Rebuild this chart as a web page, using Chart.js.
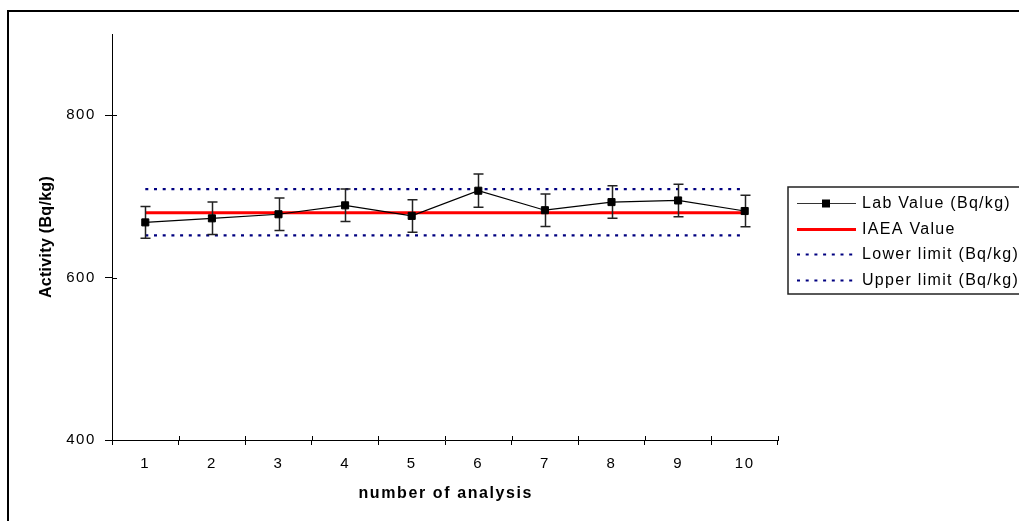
<!DOCTYPE html>
<html>
<head>
<meta charset="utf-8">
<script src="https://cdn.jsdelivr.net/npm/chart.js@4.4.1/dist/chart.umd.min.js"></script>
<style>
  html, body { margin: 0; padding: 0; background: #fff; }
  canvas { display: block; }
</style>
</head>
<body>
<canvas id="chart__1" width="1019" height="521"></canvas>
<script>
"use strict";

// ** Data
const analysisNumbers = ["1", "2", "3", "4", "5", "6", "7", "8", "9", "10"];
const labValues = [668, 673, 678, 689, 676, 707, 683, 693, 695, 682];
const labErrors = [19.5, 20, 20, 20, 20, 20.5, 20, 20, 20, 19.5];
const iaeaValues = [680, 680, 680, 680, 680, 680, 680, 680, 680, 680];
const lowerLimit = [652, 652, 652, 652, 652, 652, 652, 652, 652, 652];
const upperLimit = [709, 709, 709, 709, 709, 709, 709, 709, 709, 709];
const yTickValues = [400, 600, 800];

const FONT = "'Liberation Sans', Arial, sans-serif";
const TICK_SPACING = 1.6;

// ** Plugins

const errorBars = {
  id: "errorBars",
  beforeDatasetDraw(chart, args) {
    if (args.index !== 0) return;
    const { ctx } = chart;
    const { x, y } = chart.scales;
    ctx.save();
    ctx.strokeStyle = "#222";
    ctx.lineWidth = 1.5;
    labValues.forEach((v, i) => {
      const px = Math.round(x.getPixelForValue(i)) + 0.5;
      const top = y.getPixelForValue(v + labErrors[i]);
      const bot = y.getPixelForValue(v - labErrors[i]);
      ctx.beginPath();
      ctx.moveTo(px, top);
      ctx.lineTo(px, bot);
      ctx.moveTo(px - 5, top);
      ctx.lineTo(px + 5, top);
      ctx.moveTo(px - 5, bot);
      ctx.lineTo(px + 5, bot);
      ctx.stroke();
    });
    ctx.restore();
  },
};

const textSpacing = {
  id: "textSpacing",
  beforeDraw(chart) {
    chart.ctx.letterSpacing = TICK_SPACING + "px";
  },
};

const decorations = {
  id: "decorations",
  afterDraw(chart) {
    const { ctx, chartArea } = chart;
    const { x, y } = chart.scales;
    ctx.save();

    // outer frame
    ctx.strokeStyle = "#000";
    ctx.lineWidth = 2;
    ctx.strokeRect(8, 11, 1100, 600);

    // tick marks crossing into the plot
    ctx.lineWidth = 1;
    ctx.beginPath();
    yTickValues.forEach((v) => {
      const py = Math.round(y.getPixelForValue(v)) + 0.5;
      ctx.moveTo(chartArea.left, py);
      ctx.lineTo(chartArea.left + 5, py);
    });
    const half = (x.getPixelForValue(1) - x.getPixelForValue(0)) / 2;
    for (let i = 0; i <= analysisNumbers.length; i++) {
      const px = Math.round(x.getPixelForValue(i) - half) + 0.5;
      ctx.moveTo(px, chartArea.bottom);
      ctx.lineTo(px, chartArea.bottom - 4);
    }
    ctx.stroke();

    // axis titles
    ctx.fillStyle = "#000";
    ctx.font = `bold 16px ${FONT}`;
    ctx.textAlign = "center";
    ctx.textBaseline = "middle";
    ctx.letterSpacing = "1.6px";
    ctx.fillText("number of analysis", (chartArea.left + chartArea.right) / 2 + 0.8, 494);
    ctx.save();
    ctx.letterSpacing = "0.3px";
    ctx.translate(47, (chartArea.top + chartArea.bottom) / 2);
    ctx.rotate(-Math.PI / 2);
    ctx.fillText("Activity (Bq/kg)", 0, 0);
    ctx.restore();

    // legend
    const lx = 788, ly = 187, rowH = 25.7;
    ctx.strokeStyle = "#222";
    ctx.lineWidth = 1.5;
    ctx.strokeRect(lx, ly, 300, 107);
    ctx.font = `16px ${FONT}`;
    ctx.textAlign = "left";
    ctx.letterSpacing = "1.3px";
    chart.data.datasets.forEach((ds, i) => {
      const cy = Math.round(ly + 16 + i * rowH) + 0.5;
      ctx.save();
      ctx.strokeStyle = i === 0 ? "#333" : ds.borderColor;
      ctx.lineWidth = ds.borderWidth;
      ctx.setLineDash(ds.borderDash || []);
      ctx.beginPath();
      ctx.moveTo(797, cy);
      ctx.lineTo(856, cy);
      ctx.stroke();
      if (i === 0) {
        ctx.fillStyle = "#000";
        ctx.fillRect(822, cy - 4, 8, 8);
      }
      ctx.restore();
      ctx.fillText(ds.label, 862, cy);
    });

    ctx.restore();
  },
};

// ** Chart
const config = {
  type: "line",
  data: {
    labels: analysisNumbers,
    datasets: [
      {
        label: "Lab Value (Bq/kg)",
        data: labValues,
        borderColor: "#000",
        backgroundColor: "#000",
        borderWidth: 1.2,
        pointStyle: "rect",
        pointRadius: 5,
        pointBorderWidth: 1,
      },
      {
        label: "IAEA Value",
        data: iaeaValues,
        borderColor: "#ff0000",
        borderWidth: 3,
        pointRadius: 0,
      },
      {
        label: "Lower limit (Bq/kg)",
        data: lowerLimit,
        borderColor: "#000080",
        borderWidth: 2.2,
        borderDash: [3, 5.7],
        pointRadius: 0,
      },
      {
        label: "Upper limit (Bq/kg)",
        data: upperLimit,
        borderColor: "#000080",
        borderWidth: 2.2,
        borderDash: [3, 5.7],
        pointRadius: 0,
      },
    ],
  },
  options: {
    responsive: false,
    animation: false,
    events: [],
    layout: { padding: { left: 0, top: 34, right: 241, bottom: 0 } },
    plugins: {
      legend: { display: false },
      title: { display: false },
      tooltip: { enabled: false },
    },
    scales: {
      x: {
        type: "category",
        offset: true,
        grid: { offset: true, drawOnChartArea: false, tickLength: 5, color: "#000" },
        border: { color: "#000", width: 1 },
        ticks: { padding: 10, color: "#000", font: { family: FONT, size: 15 }, maxRotation: 0 },
        afterFit: (scale) => { scale.height = 81; },
      },
      y: {
        min: 400,
        max: 900,
        ticks: { stepSize: 200, padding: 9, color: "#000", font: { family: FONT, size: 15 } },
        afterBuildTicks: (scale) => { scale.ticks = yTickValues.map((v) => ({ value: v })); },
        grid: { drawOnChartArea: false, tickLength: 7, color: "#000" },
        border: { color: "#000", width: 1 },
        afterFit: (scale) => { scale.width = 112; },
      },
    },
  },
  plugins: [textSpacing, errorBars, decorations],
};

const chart = new Chart(document.getElementById("chart__1").getContext("2d"), config);
</script>
</body>
</html>
